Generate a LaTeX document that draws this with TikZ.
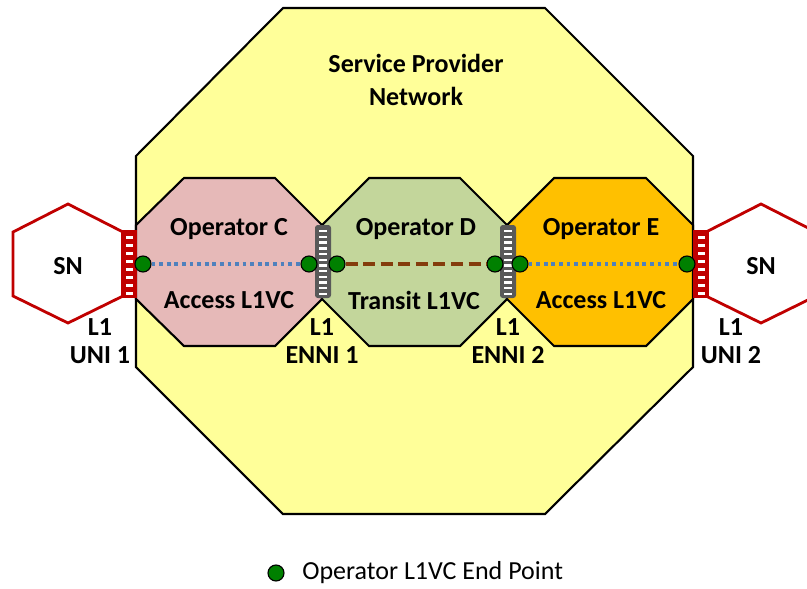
\documentclass[tikz,border=0pt]{standalone}
\usepackage{fontspec}
\setmainfont{Carlito}
\usetikzlibrary{calc}
\definecolor{spyellow}{HTML}{FFFF99}
\definecolor{oppink}{HTML}{E6B9B8}
\definecolor{opgreen}{HTML}{C3D69B}
\definecolor{oporange}{HTML}{FFC000}
\definecolor{snred}{HTML}{C00000}
\definecolor{ennigrey}{HTML}{595959}
\definecolor{epgreen}{HTML}{008000}
\definecolor{vcblue}{HTML}{4F81BD}
\definecolor{vcbrown}{HTML}{843C0C}

\begin{document}
\begin{tikzpicture}[x=0.025cm, y=-0.025cm,
	lbl/.style={font=\fontsize{18.5}{20}\selectfont\bfseries, align=center, inner sep=0pt},
	legendtxt/.style={font=\fontsize{18.5}{20}\selectfont, anchor=west, inner sep=0pt},
	octa/.style={draw=black, line width=1.5pt, line join=miter},
	snhex/.style={draw=snred, fill=white, line width=2pt, line join=miter},
	endpt/.style={circle, draw=black, fill=epgreen, line width=0.8pt, minimum size=0.4cm, inner sep=0pt},
	accessvc/.style={vcblue, line width=2.7pt, dash pattern=on 2.7pt off 2.7pt},
	transitvc/.style={vcbrown, line width=2.7pt, dash pattern=on 8.5pt off 4pt}]
	\useasboundingbox (0,0) rectangle (807,588);

	%subscriber networks
	\draw[snhex] (13,232)--(68,204)--(123,232)--(123,296)--(68,323)--(13,296)--cycle;
	\draw[snhex] (816,232)--(761,204)--(706,232)--(706,296)--(761,323)--(816,296)--cycle;
	\node[lbl] (snl) at (68,266) {SN};
	\node[lbl] (snr) at (761,266) {SN};

	%service provider network
	\draw[octa, fill=spyellow] (283,8)--(545,8)--(693,156)--(693,367)--(545,514)--(283,514)--(136,367)--(136,156)--cycle;
	\node[lbl, font=\fontsize{18.5}{23.5}\selectfont\bfseries] (spn) at (416,80) {Service Provider\\Network};

	%operators
	\draw[octa, fill=oppink] (184,178)--(275,178)--(322,225)--(322,299)--(275,346)--(184,346)--(136,299)--(136,225)--cycle;
	\draw[octa, fill=opgreen] (369,178)--(460,178)--(507,225)--(507,299)--(460,346)--(369,346)--(322,299)--(322,225)--cycle;
	\draw[octa, fill=oporange] (554,178)--(646,178)--(693,225)--(693,299)--(646,346)--(554,346)--(507,299)--(507,225)--cycle;
	\node[lbl] (opc) at (229,229) {Operator C};
	\node[lbl] (opd) at (416,229) {Operator D};
	\node[lbl] (ope) at (601,229) {Operator E};
	\node[lbl] (vcc) at (229,300) {Access L1VC};
	\node[lbl] (vcd) at (414,300) {Transit L1VC};
	\node[lbl] (vce) at (601,300) {Access L1VC};

	%uni ports
	\foreach \x in {121,693}{
		\fill[snred] (\x,230) rectangle ++(16,68);
		\foreach \y in {0,...,7}
			\fill[white] (\x+5,236+8*\y) rectangle ++(7,3);
	}

	%enni ports
	\foreach \x in {315,500}{
		\fill[ennigrey, rounded corners=2pt] (\x,225) rectangle ++(16,73);
		\foreach \y in {0,...,11}
			\fill[white] (\x+4,230+5.7*\y) rectangle ++(8,2.4);
	}

	%end points
	\node[endpt] (ep1) at (143,264) {};
	\node[endpt] (ep2) at (309,264) {};
	\node[endpt] (ep3) at (337,264) {};
	\node[endpt] (ep4) at (495,264) {};
	\node[endpt] (ep5) at (520,264) {};
	\node[endpt] (ep6) at (687,264) {};

	%l1vcs
	\draw[accessvc] (ep1)--(ep2);
	\draw[transitvc] (ep3)--(ep4);
	\draw[accessvc] (ep5)--(ep6);

	%interface labels
	\node[lbl] (uni1) at (100,341) {L1\\UNI 1};
	\node[lbl] (enni1) at (322,341) {L1\\ENNI 1};
	\node[lbl] (enni2) at (508,341) {L1\\ENNI 2};
	\node[lbl] (uni2) at (731,341) {L1\\UNI 2};

	%legend
	\node[endpt] (legdot) at (276,573) {};
	\node[legendtxt] (legtxt) at (302,573) {Operator L1VC End Point};
\end{tikzpicture}
\end{document}
